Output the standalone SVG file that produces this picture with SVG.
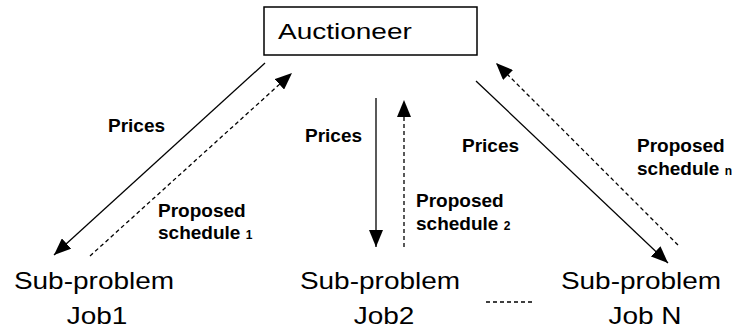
<svg xmlns="http://www.w3.org/2000/svg" width="735" height="331" viewBox="0 0 735 331">
<defs>
<marker id="ah" markerUnits="userSpaceOnUse" markerWidth="18" markerHeight="14" refX="17" refY="7" orient="auto">
<path d="M0,0 L17,7 L0,14 Z" fill="#000"/>
</marker>
<style>
.lbl{font-family:"Liberation Sans",Arial,sans-serif;font-weight:bold;font-size:19px;fill:#000}
.sub{font-size:12px}
.node{font-family:"Liberation Sans",Arial,sans-serif;font-size:28px;fill:#000}
.solid{stroke:#000;stroke-width:1.3;fill:none}
.dash{stroke:#000;stroke-width:1.3;fill:none;stroke-dasharray:4,3}
</style>
</defs>
<rect width="735" height="331" fill="#fff"/>
<g id="auctioneer">
<rect x="264" y="7" width="213" height="48" fill="#fff" stroke="#000" stroke-width="1.5"/>
<text class="node" transform="translate(278,39) scale(1,0.82)">Auctioneer</text>
</g>
<g id="job1">
<text class="node" text-anchor="middle" transform="translate(94,289) scale(1,0.85)">Sub-problem</text>
<text class="node" text-anchor="middle" transform="translate(97,324) scale(1,0.85)">Job1</text>
</g>
<g id="job2">
<text class="node" text-anchor="middle" transform="translate(380,289) scale(1,0.85)">Sub-problem</text>
<text class="node" text-anchor="middle" transform="translate(384,324) scale(1,0.85)">Job2</text>
</g>
<g id="jobN">
<text class="node" text-anchor="middle" transform="translate(641,289) scale(1,0.85)">Sub-problem</text>
<text class="node" text-anchor="middle" transform="translate(645,324) scale(1,0.85)">Job N</text>
</g>
<g id="connectors">
<line class="solid" x1="265" y1="63" x2="54" y2="255" marker-end="url(#ah)"/>
<line class="dash" x1="90" y1="256" x2="292" y2="73" marker-end="url(#ah)"/>
<line class="solid" x1="376" y1="98" x2="376" y2="247" marker-end="url(#ah)"/>
<line class="dash" x1="404" y1="247" x2="404" y2="100" marker-end="url(#ah)"/>
<line class="solid" x1="476" y1="81" x2="668" y2="263" marker-end="url(#ah)"/>
<line class="dash" x1="678" y1="245" x2="496" y2="63" marker-end="url(#ah)"/>
<line class="dash" x1="486" y1="302" x2="532" y2="302"/>
</g>
<g id="labels">
<text class="lbl" x="108" y="132">Prices</text>
<text class="lbl" x="158" y="217">Proposed</text>
<text class="lbl" x="158" y="239">schedule <tspan class="sub">1</tspan></text>
<text class="lbl" x="305" y="142">Prices</text>
<text class="lbl" x="416" y="207">Proposed</text>
<text class="lbl" x="416" y="230">schedule <tspan class="sub">2</tspan></text>
<text class="lbl" x="462" y="152">Prices</text>
<text class="lbl" x="637" y="152">Proposed</text>
<text class="lbl" x="637" y="175">schedule <tspan class="sub">n</tspan></text>
</g>
</svg>
